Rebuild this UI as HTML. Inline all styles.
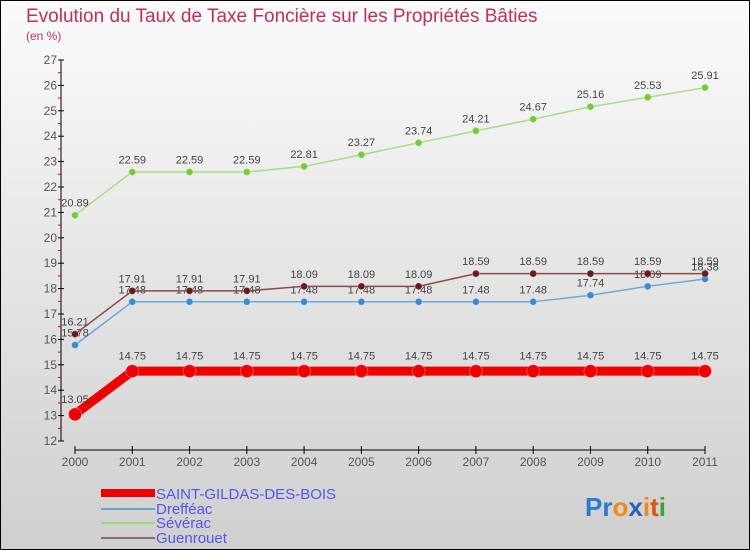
<!DOCTYPE html>
<html><head><meta charset="utf-8"><style>
body{margin:0;}
svg{display:block;font-family:"Liberation Sans",sans-serif;}
</style></head><body>
<svg id="c" width="750" height="550" xmlns="http://www.w3.org/2000/svg">
<defs><linearGradient id="bg" x1="0" y1="0" x2="0" y2="1"><stop offset="0" stop-color="#fbfbfb"/><stop offset="1" stop-color="#cfcfcf"/></linearGradient></defs>
<rect x="0.5" y="0.5" width="749" height="549" fill="url(#bg)" stroke="#000"/>
<text x="26" y="22" font-size="19" fill="#c0305a">Evolution du Taux de Taxe Foncière sur les Propriétés Bâties</text>
<text x="26" y="40" font-size="12" fill="#c0306a">(en %)</text>
<g id="axes"></g><g id="series"></g>
<g>
<rect x="101" y="489" width="54" height="8" fill="#e00"/>
<text x="156" y="499" font-size="15" fill="#5555ee">SAINT-GILDAS-DES-BOIS</text>
<rect x="101" y="508" width="54" height="2" fill="#6fa0cc"/>
<text x="156" y="514" font-size="15" fill="#5555ee">Drefféac</text>
<rect x="101" y="522" width="54" height="2" fill="#99dd77"/>
<text x="156" y="528" font-size="15" fill="#5555ee">Sévérac</text>
<rect x="101" y="537" width="54" height="2" fill="#8a6a6a"/>
<text x="156" y="543" font-size="15" fill="#5555ee">Guenrouet</text>
</g>
<g font-size="26" font-weight="bold">
<text x="585" y="516"><tspan fill="#2a7ad0">Pr</tspan><tspan fill="#f08a10">o</tspan><tspan fill="#2a60c0">x</tspan><tspan fill="#f08a10">i</tspan><tspan fill="#e05010">t</tspan><tspan fill="#33aa33">i</tspan></text>
</g>
</svg>
<script>
const years=[2000,2001,2002,2003,2004,2005,2006,2007,2008,2009,2010,2011];
const yTicks=[12,13,14,15,16,17,18,19,20,21,22,23,24,25,26,27];
const stGildas=[13.05,14.75,14.75,14.75,14.75,14.75,14.75,14.75,14.75,14.75,14.75,14.75];
const dreffeac=[15.78,17.48,17.48,17.48,17.48,17.48,17.48,17.48,17.48,17.74,18.09,18.38];
const severac=[20.89,22.59,22.59,22.59,22.81,23.27,23.74,24.21,24.67,25.16,25.53,25.91];
const guenrouet=[16.21,17.91,17.91,17.91,18.09,18.09,18.09,18.59,18.59,18.59,18.59,18.59];
const NS="http://www.w3.org/2000/svg";
const X=i=>75+i*(630/11);
const Y=v=>441-(v-12)*(381/15);
function mk(t,a,p){const e=document.createElementNS(NS,t);for(const k in a)e.setAttribute(k,a[k]);p.appendChild(e);return e;}
const ax=document.getElementById('axes');
const yl=mk('line',{x1:61,y1:Y(27),x2:61,y2:Y(12),stroke:'#000'},ax);


yTicks.forEach(v=>{
 mk('line',{x1:58,x2:64,y1:Y(v),y2:Y(v),stroke:'#000'},ax);
 if(v<27) mk('line',{x1:58,x2:61,y1:Y(v+0.5),y2:Y(v+0.5),stroke:'#e00'},ax);
 const t=mk('text',{x:57,y:Y(v)+4,'text-anchor':'end','font-size':12,fill:'#555'},ax);
 t.textContent=v;
 
 
});
const xl=mk('line',{x1:X(0),x2:X(11),y1:450,y2:450,stroke:'#000'},ax);


years.forEach((yr,i)=>{
 mk('line',{x1:X(i),x2:X(i),y1:446,y2:454,stroke:'#000'},ax);
 const t=mk('text',{x:X(i),y:466,'text-anchor':'middle','font-size':12,fill:'#555'},ax);
 t.textContent=yr;
 
 
});
const sg=document.getElementById('series');
function draw(name,vals,color,w,r,fill){
 const g=mk('g',{},sg);
 
 
 mk('polyline',{points:vals.map((v,i)=>X(i)+','+Y(v)).join(' '),fill:'none',stroke:color,'stroke-width':w},g);
 vals.forEach((v,i)=>{
  const c=mk('circle',{cx:X(i),cy:Y(v),r:r,fill:fill,stroke:'#fff','stroke-opacity':0.3},g);
  
  
  const t=mk('text',{x:X(i),y:Y(v)-r-5,'text-anchor':'middle','font-size':11,fill:'#444'},g);
  t.textContent=v.toFixed(2);
  
  
 });
}
draw('severac',severac,'#a6dd88',1.5,3.5,'#77cc33');
draw('dreffeac',dreffeac,'#6fa8d6',1.5,3.5,'#3a8ad0');
draw('guenrouet',guenrouet,'#8a4a4a',1.5,3.5,'#6a1a1a');
draw('saint-gildas',stGildas,'#ee0000',9,6.5,'#ee0000');
</script>
</body></html>
